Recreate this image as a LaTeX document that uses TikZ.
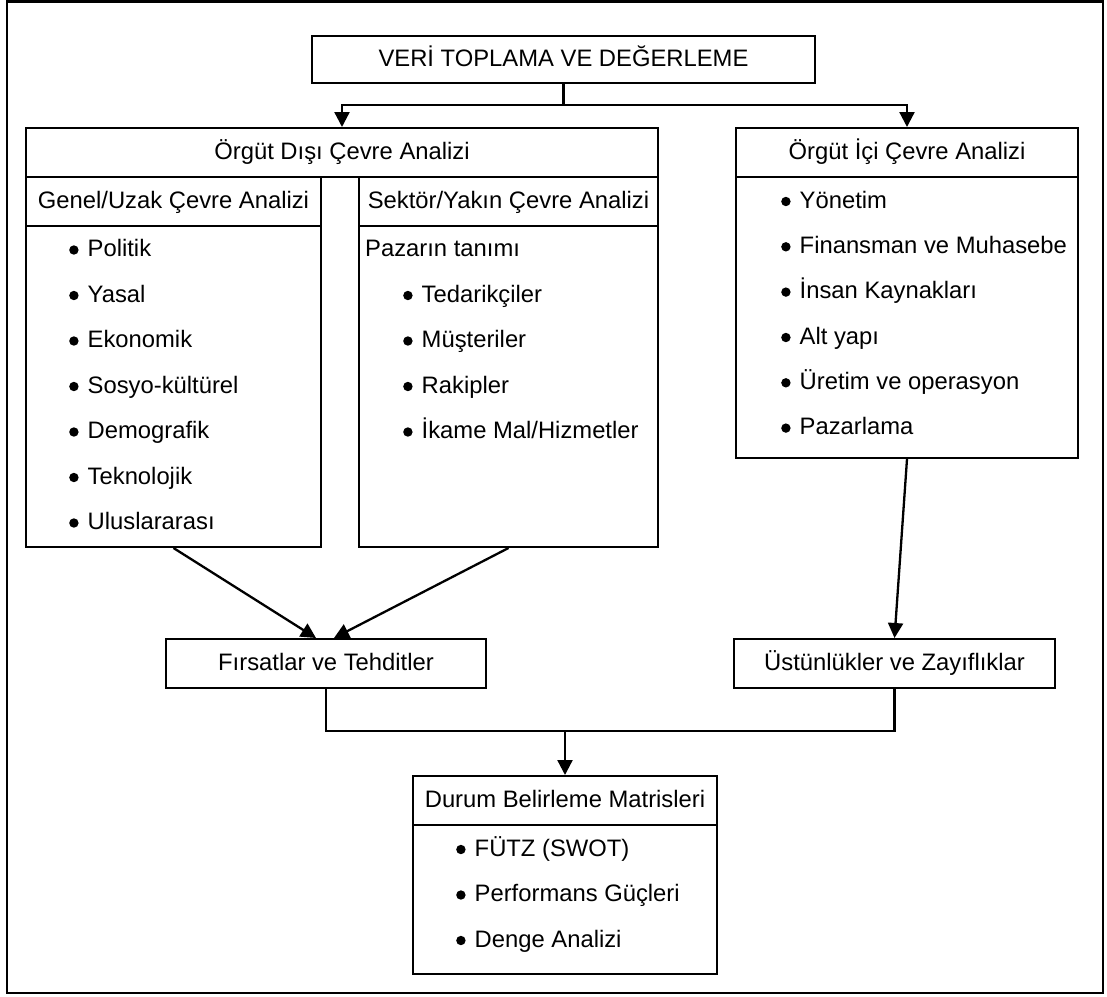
\documentclass[tikz,border=0pt]{standalone}
\usepackage{fontspec}
\setmainfont{Liberation Sans}
\usetikzlibrary{arrows.meta}
% round bullet followed by a fixed gap before the item text
\newcommand{\bul}{\makebox[18.5pt][l]{\tikz[baseline=-6.5pt]\fill (0pt,0pt) circle (4.7pt);}}

\begin{document}
\begin{tikzpicture}[x=1pt,y=-1pt,
  every node/.style={font=\fontsize{23.8}{28}\selectfont},
  box/.style={draw, line width=2pt, inner sep=0pt, anchor=north west,
              text height=17pt, text depth=4pt},
  item/.style={anchor=base west, inner sep=0pt},
  link/.style={line width=2.3pt},
  arr/.style={link, -{Triangle[length=15pt,width=15pt]}}
]
\useasboundingbox (0,0) rectangle (1107,996);
\draw[line width=2.2pt] (7,1.5) rectangle (1103,993);

% top box
\node[box, minimum width=503pt, minimum height=47pt] (top) at (311,35) {VERİ TOPLAMA VE DEĞERLEME};

% external environment
\node[box, minimum width=632pt, minimum height=49pt] (dis) at (25,127) {Örgüt Dışı Çevre Analizi};
\node[box, minimum width=295pt, minimum height=49pt] (genelH) at (25,176) {Genel/Uzak Çevre Analizi};
\node[box, minimum width=295pt, minimum height=321pt] (genelB) at (25,225) {};
\node[box, minimum width=299pt, minimum height=49pt] (sektorH) at (358,176) {Sektör/Yakın Çevre Analizi};
\node[box, minimum width=299pt, minimum height=321pt] (sektorB) at (358,225) {};

% internal environment
\node[box, minimum width=342pt, minimum height=49pt] (ici) at (735,127) {Örgüt İçi Çevre Analizi};
\node[box, minimum width=342pt, minimum height=281pt] (iciB) at (735,176) {};

% results
\node[box, minimum width=320pt, minimum height=49pt] (firsat) at (165,638) {Fırsatlar ve Tehditler};
\node[box, minimum width=321pt, minimum height=49pt] (ustun) at (733,638) {Üstünlükler ve Zayıflıklar};
\node[box, minimum width=304pt, minimum height=49pt] (durumH) at (412,775) {Durum Belirleme Matrisleri};
\node[box, minimum width=304pt, minimum height=149pt] (durumB) at (412,824) {};

% general environment items
\node[item] (g1) at (69,256.5) {\bul Politik};
\node[item] (g2) at (69,302) {\bul Yasal};
\node[item] (g3) at (69,347.5) {\bul Ekonomik};
\node[item] (g4) at (69,393) {\bul Sosyo-kültürel};
\node[item] (g5) at (69,438.5) {\bul Demografik};
\node[item] (g6) at (69,484) {\bul Teknolojik};
\node[item] (g7) at (69,529.5) {\bul Uluslararası};

% sector items
\node[item] (s0) at (365,256.5) {Pazarın tanımı};
\node[item] (s1) at (403,302) {\bul Tedarikçiler};
\node[item] (s2) at (403,347.5) {\bul Müşteriler};
\node[item] (s3) at (403,393) {\bul Rakipler};
\node[item] (s4) at (403,438.5) {\bul İkame Mal/Hizmetler};

% internal items
\node[item] (i1) at (781,208) {\bul Yönetim};
\node[item] (i2) at (781,253.3) {\bul Finansman ve Muhasebe};
\node[item] (i3) at (781,298.6) {\bul İnsan Kaynakları};
\node[item] (i4) at (781,344) {\bul Alt yapı};
\node[item] (i5) at (781,389.3) {\bul Üretim ve operasyon};
\node[item] (i6) at (781,434.6) {\bul Pazarlama};

% matrices items
\node[item] (d1) at (456,856) {\bul FÜTZ (SWOT)};
\node[item] (d2) at (456,901.5) {\bul Performans Güçleri};
\node[item] (d3) at (456,947) {\bul Denge Analizi};

% connectors
\draw[link] (top.south) -- ++(0,21) coordinate (split);
\draw[arr] (split) -| (dis.north);
\draw[arr] (split) -| (ici.north);

\draw[arr] (genelB.south) -- ([xshift=-10pt]firsat.north);
\draw[arr] (sektorB.south) -- ([xshift=8pt]firsat.north);
\draw[arr] (iciB.south) -- (ustun.north);

\coordinate (mrow) at (0,731);
\coordinate (merge) at (durumH.north |- mrow);
\draw[link] (firsat.south) |- (merge) -| (ustun.south);
\draw[arr] (merge) -- (durumH.north);
\end{tikzpicture}
\end{document}
